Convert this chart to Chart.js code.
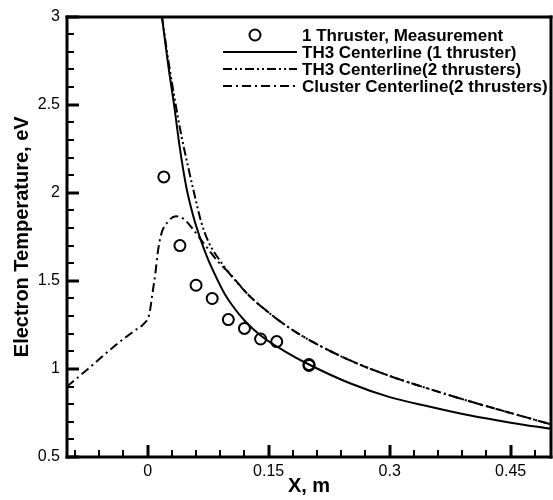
<!DOCTYPE html>
<html>
<head>
<meta charset="utf-8">
<script src="https://cdn.jsdelivr.net/npm/chart.js@4.4.1/dist/chart.umd.min.js"></script>
<style>
  html, body { margin: 0; padding: 0; background: #fff; }
  #wrap { width: 553px; height: 500px; position: relative; }
</style>
</head>
<body>
<div id="wrap"><canvas id="tempChart"></canvas></div>
<script>
// measured points (1 thruster)
const measX = [0.02, 0.04, 0.06, 0.08, 0.10, 0.12, 0.14, 0.16, 0.20, 0.20];
const measT = [2.09, 1.70, 1.475, 1.40, 1.28, 1.23, 1.17, 1.155, 1.02, 1.025];

// TH3 centerline, 1 thruster
const th3OneX = [0.0177, 0.025, 0.033, 0.040, 0.048, 0.057, 0.066, 0.075, 0.085, 0.095, 0.105, 0.12, 0.14, 0.17, 0.20, 0.25, 0.30, 0.35, 0.40, 0.45, 0.50];
const th3OneT = [3.0, 2.74, 2.49, 2.25, 2.03, 1.86, 1.73, 1.62, 1.52, 1.43, 1.36, 1.275, 1.19, 1.10, 1.025, 0.92, 0.84, 0.785, 0.735, 0.695, 0.66];

// TH3 centerline, 2 thrusters
const th3TwoX = [0.0177, 0.026, 0.034, 0.042, 0.050, 0.058, 0.066, 0.075, 0.09, 0.10, 0.125, 0.15, 0.175, 0.20, 0.25, 0.30, 0.35, 0.40, 0.45, 0.50];
const th3TwoT = [3.0, 2.74, 2.52, 2.32, 2.15, 1.99, 1.84, 1.725, 1.612, 1.55, 1.42, 1.32, 1.235, 1.165, 1.05, 0.96, 0.885, 0.815, 0.75, 0.685];

// cluster centerline, 2 thrusters
const clusterX = [-0.10, -0.074, -0.041, -0.017, -0.004, 0.002, 0.006, 0.010, 0.0125, 0.0165, 0.025, 0.035, 0.045, 0.055, 0.065, 0.075, 0.087, 0.10, 0.125, 0.15, 0.175, 0.20, 0.25, 0.30, 0.35, 0.40, 0.45, 0.50];
const clusterT = [0.90, 1.0, 1.13, 1.215, 1.26, 1.31, 1.43, 1.56, 1.66, 1.76, 1.835, 1.866, 1.85, 1.80, 1.74, 1.68, 1.61, 1.55, 1.42, 1.32, 1.235, 1.165, 1.05, 0.96, 0.885, 0.815, 0.75, 0.685];

const xTicks = [0, 0.15, 0.3, 0.45];
const yTicks = [0.5, 1, 1.5, 2, 2.5, 3];
const xMinorStep = 0.03;
const yMinorStep = 0.1;

const legendLabels = [
    '1 Thruster, Measurement',
    'TH3 Centerline (1 thruster)',
    'TH3 Centerline(2 thrusters)',
    'Cluster Centerline(2 thrusters)'
];

const FONT = "'Liberation Sans', Arial, sans-serif";
const toPts = (xs, ys) => xs.map((x, i) => ({ x: x, y: ys[i] }));

// frame + inward tick marks
const framePlugin = {
    id: 'plotFrame',
    afterDraw(chart) {
        const ctx = chart.ctx;
        const a = chart.chartArea;
        const sx = chart.scales.x, sy = chart.scales.y;
        const L = Math.round(a.left), R = Math.round(a.right);
        const top = Math.round(a.top), bot = Math.round(a.bottom);
        ctx.save();
        ctx.fillStyle = '#000';
        for (let i = 0; i <= 25; i++) {
            const v = 0.5 + i * yMinorStep;
            const py = Math.round(sy.getPixelForValue(v));
            const major = yTicks.some(t => Math.abs(t - v) < 1e-6);
            if (major) ctx.fillRect(L, py - 1.5, 12, 3);
            else ctx.fillRect(L, py - 1, 7, 2);
        }
        for (let i = 0; i <= 19; i++) {
            const v = -0.09 + i * xMinorStep;
            const px = Math.round(sx.getPixelForValue(v));
            const major = xTicks.some(t => Math.abs(t - v) < 1e-6);
            if (major) ctx.fillRect(px - 1.5, bot - 12, 3, 12);
            else ctx.fillRect(px - 1, bot - 7, 2, 7);
        }
        ctx.fillRect(L - 1.5, top - 1.5, R - L + 3, 3);
        ctx.fillRect(L - 1.5, bot - 1.5, R - L + 3, 3);
        ctx.fillRect(L - 1.5, top - 1.5, 3, bot - top + 3);
        ctx.fillRect(R - 1.5, top - 1.5, 3, bot - top + 3);
        ctx.restore();
    }
};

// legend at top right, inside the plot
const legendPlugin = {
    id: 'customLegend',
    afterDraw(chart) {
        const ctx = chart.ctx;
        const rows = [35, 52, 69, 86];
        ctx.save();
        chart.data.datasets.forEach((ds, i) => {
            const y = rows[i];
            ctx.strokeStyle = '#000';
            ctx.lineWidth = 2;
            if (i === 0) {
                ctx.setLineDash([]);
                ctx.beginPath();
                ctx.arc(255, y, 5.5, 0, Math.PI * 2);
                ctx.stroke();
            } else {
                ctx.setLineDash(ds.borderDash || []);
                ctx.beginPath();
                ctx.moveTo(223, y);
                ctx.lineTo(297, y);
                ctx.stroke();
            }
            ctx.setLineDash([]);
            ctx.fillStyle = '#000';
            ctx.font = 'bold 17px ' + FONT;
            ctx.textBaseline = 'middle';
            ctx.textAlign = 'left';
            ctx.fillText(legendLabels[i], 302, y + 1);
        });
        ctx.restore();
    }
};

new Chart(document.getElementById('tempChart'), {
    type: 'scatter',
    data: {
        datasets: [
            {
                label: legendLabels[0],
                data: toPts(measX, measT),
                showLine: false,
                pointStyle: 'circle',
                pointRadius: 5.5,
                pointHoverRadius: 5.5,
                pointBorderWidth: 2,
                pointBorderColor: '#000',
                pointBackgroundColor: 'rgba(0,0,0,0)'
            },
            {
                label: legendLabels[1],
                data: toPts(th3OneX, th3OneT),
                showLine: true,
                borderColor: '#000',
                borderWidth: 2,
                pointRadius: 0,
                pointHoverRadius: 0,
                cubicInterpolationMode: 'monotone'
            },
            {
                label: legendLabels[2],
                data: toPts(th3TwoX, th3TwoT),
                showLine: true,
                borderColor: '#000',
                borderWidth: 2,
                borderDash: [9, 3, 2, 3, 2, 3],
                pointRadius: 0,
                pointHoverRadius: 0,
                cubicInterpolationMode: 'monotone'
            },
            {
                label: legendLabels[3],
                data: toPts(clusterX, clusterT),
                showLine: true,
                borderColor: '#000',
                borderWidth: 2,
                borderDash: [9, 4, 2, 4],
                pointRadius: 0,
                pointHoverRadius: 0,
                cubicInterpolationMode: 'monotone'
            }
        ]
    },
    options: {
        responsive: true,
        maintainAspectRatio: false,
        animation: false,
        layout: { autoPadding: false, padding: { top: 14, right: 2, left: 0, bottom: 0 } },
        plugins: {
            legend: { display: false },
            tooltip: { enabled: false }
        },
        scales: {
            x: {
                type: 'linear',
                min: -0.1,
                max: 0.5,
                afterBuildTicks: s => { s.ticks = xTicks.map(v => ({ value: v })); },
                afterFit: s => { s.height = 43; s.paddingLeft = 0; s.paddingRight = 0; },
                grid: { display: false, drawTicks: false },
                border: { display: false },
                ticks: {
                    color: '#000',
                    font: { family: FONT, size: 16 },
                    padding: 5,
                    maxRotation: 0,
                    autoSkip: false,
                    callback: v => String(v)
                },
                title: {
                    display: true,
                    text: 'X, m',
                    color: '#000',
                    font: { family: FONT, size: 20, weight: 'bold' },
                    padding: { top: 0, bottom: 2 }
                }
            },
            y: {
                type: 'linear',
                min: 0.5,
                max: 3,
                afterBuildTicks: s => { s.ticks = yTicks.map(v => ({ value: v })); },
                afterFit: s => { s.width = 67; },
                grid: { display: false, drawTicks: false },
                border: { display: false },
                ticks: {
                    color: '#000',
                    font: { family: FONT, size: 16 },
                    padding: 7,
                    autoSkip: false,
                    callback: v => String(v)
                },
                title: {
                    display: true,
                    text: 'Electron Temperature, eV',
                    color: '#000',
                    font: { family: FONT, size: 20, weight: 'bold' },
                    padding: { top: 10, bottom: 0 }
                }
            }
        }
    },
    plugins: [framePlugin, legendPlugin]
});
</script>
</body>
</html>
